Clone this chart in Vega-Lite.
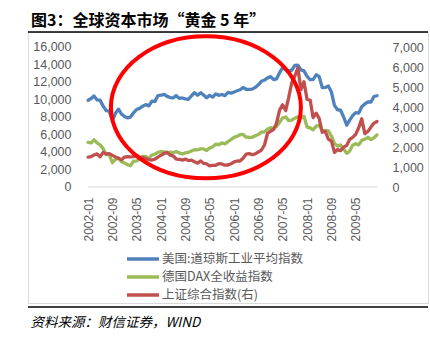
{
  "$schema": "https://vega.github.io/schema/vega-lite/v6.json",
  "width": 400,
  "height": 271,
  "autosize": {"type": "none"},
  "padding": {"left": 28, "top": 32, "right": 2, "bottom": 37},
  "background": "#ffffff",
  "title": {
    "text": "图3：全球资本市场“黄金 5 年”",
    "anchor": "start",
    "frame": "group",
    "font": "Noto Sans CJK SC",
    "fontSize": 16,
    "fontWeight": "bold",
    "color": "#000000",
    "offset": -1,
    "dx": 3
  },
  "config": {
    "view": {"stroke": "#d9d9d9", "strokeWidth": 1},
    "font": "Liberation Sans",
    "axis": {"labelOverlap": false, "labelFlush": false},
    "legend": {
      "orient": "none",
      "legendX": 108,
      "legendY": 220,
      "direction": "vertical",
      "padding": 0,
      "symbolType": "M-3.2,0H3.2",
      "symbolSize": 100,
      "symbolStrokeWidth": 3.5,
      "labelFont": "Noto Sans CJK SC",
      "labelFontSize": 12.5,
      "labelColor": "#595959",
      "labelOffset": 12,
      "rowPadding": 4,
      "labelLimit": 300
    }
  },
  "data": {
    "values": [
      {"date": "2002-01", "dji": 9920, "dax": 5108, "sh": 1491},
      {"date": "2002-02", "dji": 10106, "dax": 5039, "sh": 1524},
      {"date": "2002-03", "dji": 10404, "dax": 5398, "sh": 1603},
      {"date": "2002-04", "dji": 9946, "dax": 5041, "sh": 1656},
      {"date": "2002-05", "dji": 9925, "dax": 4818, "sh": 1515},
      {"date": "2002-06", "dji": 9243, "dax": 4383, "sh": 1732},
      {"date": "2002-07", "dji": 8737, "dax": 3700, "sh": 1653},
      {"date": "2002-08", "dji": 8664, "dax": 3713, "sh": 1670},
      {"date": "2002-09", "dji": 7592, "dax": 2769, "sh": 1581},
      {"date": "2002-10", "dji": 8397, "dax": 3153, "sh": 1507},
      {"date": "2002-11", "dji": 8896, "dax": 3320, "sh": 1434},
      {"date": "2002-12", "dji": 8342, "dax": 2893, "sh": 1357},
      {"date": "2003-01", "dji": 8054, "dax": 2748, "sh": 1499},
      {"date": "2003-02", "dji": 7891, "dax": 2548, "sh": 1513},
      {"date": "2003-03", "dji": 7992, "dax": 2424, "sh": 1510},
      {"date": "2003-04", "dji": 8480, "dax": 2942, "sh": 1521},
      {"date": "2003-05", "dji": 8850, "dax": 2983, "sh": 1576},
      {"date": "2003-06", "dji": 8985, "dax": 3221, "sh": 1487},
      {"date": "2003-07", "dji": 9234, "dax": 3487, "sh": 1476},
      {"date": "2003-08", "dji": 9415, "dax": 3485, "sh": 1421},
      {"date": "2003-09", "dji": 9275, "dax": 3257, "sh": 1367},
      {"date": "2003-10", "dji": 9801, "dax": 3655, "sh": 1349},
      {"date": "2003-11", "dji": 9782, "dax": 3746, "sh": 1397},
      {"date": "2003-12", "dji": 10454, "dax": 3965, "sh": 1497},
      {"date": "2004-01", "dji": 10488, "dax": 4058, "sh": 1590},
      {"date": "2004-02", "dji": 10583, "dax": 4018, "sh": 1675},
      {"date": "2004-03", "dji": 10358, "dax": 3856, "sh": 1742},
      {"date": "2004-04", "dji": 10226, "dax": 3985, "sh": 1595},
      {"date": "2004-05", "dji": 10188, "dax": 3921, "sh": 1555},
      {"date": "2004-06", "dji": 10435, "dax": 4052, "sh": 1399},
      {"date": "2004-07", "dji": 10140, "dax": 3895, "sh": 1386},
      {"date": "2004-08", "dji": 10174, "dax": 3785, "sh": 1342},
      {"date": "2004-09", "dji": 10080, "dax": 3893, "sh": 1396},
      {"date": "2004-10", "dji": 10027, "dax": 3960, "sh": 1320},
      {"date": "2004-11", "dji": 10428, "dax": 4126, "sh": 1340},
      {"date": "2004-12", "dji": 10783, "dax": 4256, "sh": 1266},
      {"date": "2005-01", "dji": 10490, "dax": 4254, "sh": 1191},
      {"date": "2005-02", "dji": 10766, "dax": 4350, "sh": 1306},
      {"date": "2005-03", "dji": 10504, "dax": 4349, "sh": 1181},
      {"date": "2005-04", "dji": 10193, "dax": 4185, "sh": 1159},
      {"date": "2005-05", "dji": 10467, "dax": 4461, "sh": 1060},
      {"date": "2005-06", "dji": 10275, "dax": 4587, "sh": 1080},
      {"date": "2005-07", "dji": 10641, "dax": 4886, "sh": 1083},
      {"date": "2005-08", "dji": 10482, "dax": 4830, "sh": 1162},
      {"date": "2005-09", "dji": 10569, "dax": 5044, "sh": 1155},
      {"date": "2005-10", "dji": 10440, "dax": 4929, "sh": 1092},
      {"date": "2005-11", "dji": 10806, "dax": 5193, "sh": 1099},
      {"date": "2005-12", "dji": 10718, "dax": 5408, "sh": 1161},
      {"date": "2006-01", "dji": 10865, "dax": 5674, "sh": 1258},
      {"date": "2006-02", "dji": 10993, "dax": 5796, "sh": 1299},
      {"date": "2006-03", "dji": 11109, "dax": 5970, "sh": 1298},
      {"date": "2006-04", "dji": 11367, "dax": 6009, "sh": 1440},
      {"date": "2006-05", "dji": 11168, "dax": 5693, "sh": 1642},
      {"date": "2006-06", "dji": 11150, "dax": 5683, "sh": 1672},
      {"date": "2006-07", "dji": 11186, "dax": 5682, "sh": 1612},
      {"date": "2006-08", "dji": 11381, "dax": 5859, "sh": 1658},
      {"date": "2006-09", "dji": 11679, "dax": 6004, "sh": 1753},
      {"date": "2006-10", "dji": 12081, "dax": 6269, "sh": 1837},
      {"date": "2006-11", "dji": 12222, "dax": 6309, "sh": 2099},
      {"date": "2006-12", "dji": 12463, "dax": 6597, "sh": 2675},
      {"date": "2007-01", "dji": 12622, "dax": 6789, "sh": 2786},
      {"date": "2007-02", "dji": 12269, "dax": 6715, "sh": 2881},
      {"date": "2007-03", "dji": 12354, "dax": 6917, "sh": 3184},
      {"date": "2007-04", "dji": 13063, "dax": 7409, "sh": 3841},
      {"date": "2007-05", "dji": 13628, "dax": 7883, "sh": 4109},
      {"date": "2007-06", "dji": 13409, "dax": 8007, "sh": 3821},
      {"date": "2007-07", "dji": 13212, "dax": 7584, "sh": 4471},
      {"date": "2007-08", "dji": 13358, "dax": 7638, "sh": 5218},
      {"date": "2007-09", "dji": 13896, "dax": 7862, "sh": 5552},
      {"date": "2007-10", "dji": 13930, "dax": 8020, "sh": 5954},
      {"date": "2007-11", "dji": 13372, "dax": 7871, "sh": 4871},
      {"date": "2007-12", "dji": 13265, "dax": 8067, "sh": 5262},
      {"date": "2008-01", "dji": 12650, "dax": 6852, "sh": 4383},
      {"date": "2008-02", "dji": 12266, "dax": 6748, "sh": 4348},
      {"date": "2008-03", "dji": 12263, "dax": 6535, "sh": 3473},
      {"date": "2008-04", "dji": 12820, "dax": 6949, "sh": 3693},
      {"date": "2008-05", "dji": 12638, "dax": 7097, "sh": 3433},
      {"date": "2008-06", "dji": 11350, "dax": 6418, "sh": 2736},
      {"date": "2008-07", "dji": 11378, "dax": 6480, "sh": 2776},
      {"date": "2008-08", "dji": 11544, "dax": 6422, "sh": 2397},
      {"date": "2008-09", "dji": 10851, "dax": 5831, "sh": 2293},
      {"date": "2008-10", "dji": 9325, "dax": 4988, "sh": 1729},
      {"date": "2008-11", "dji": 8829, "dax": 4669, "sh": 1871},
      {"date": "2008-12", "dji": 8776, "dax": 4810, "sh": 1821},
      {"date": "2009-01", "dji": 8001, "dax": 4338, "sh": 1991},
      {"date": "2009-02", "dji": 7063, "dax": 3844, "sh": 2082},
      {"date": "2009-03", "dji": 7609, "dax": 4085, "sh": 2373},
      {"date": "2009-04", "dji": 8168, "dax": 4770, "sh": 2477},
      {"date": "2009-05", "dji": 8500, "dax": 4941, "sh": 2633},
      {"date": "2009-06", "dji": 8447, "dax": 4809, "sh": 2959},
      {"date": "2009-07", "dji": 9172, "dax": 5332, "sh": 3412},
      {"date": "2009-08", "dji": 9496, "dax": 5465, "sh": 2667},
      {"date": "2009-09", "dji": 9712, "dax": 5675, "sh": 2779},
      {"date": "2009-10", "dji": 9713, "dax": 5415, "sh": 2996},
      {"date": "2009-11", "dji": 10345, "dax": 5625, "sh": 3195},
      {"date": "2009-12", "dji": 10428, "dax": 5957, "sh": 3277}
    ]
  },
  "layer": [
    {
      "data": {"values": [{"k": 1}]},
      "mark": {"type": "rule", "color": "#d9d9d9", "strokeWidth": 1.2},
      "encoding": {
        "x": {"datum": {"year": 2002, "month": 1, "utc": true}, "type": "temporal", "axis": null},
        "x2": {"datum": {"year": 2009, "month": 12, "utc": true}},
        "y": {"datum": 0, "type": "quantitative", "scale": {"domain": [-13257, 17714], "nice": false, "zero": false}, "axis": null}
      }
    },
    {
      "mark": {"type": "line", "strokeWidth": 3.3, "strokeJoin": "round", "strokeCap": "round"},
      "encoding": {
        "x": {
          "field": "date",
          "type": "temporal",
          "scale": {
            "type": "utc",
            "domain": [
              {"year": 2000, "month": 5, "date": 10, "utc": true},
              {"year": 2011, "month": 4, "date": 25, "utc": true}
            ]
          },
          "axis": {
            "values": [
              {"year": 2002, "month": 1, "utc": true},
              {"year": 2002, "month": 9, "utc": true},
              {"year": 2003, "month": 5, "utc": true},
              {"year": 2004, "month": 1, "utc": true},
              {"year": 2004, "month": 9, "utc": true},
              {"year": 2005, "month": 5, "utc": true},
              {"year": 2006, "month": 1, "utc": true},
              {"year": 2006, "month": 9, "utc": true},
              {"year": 2007, "month": 5, "utc": true},
              {"year": 2008, "month": 1, "utc": true},
              {"year": 2008, "month": 9, "utc": true},
              {"year": 2009, "month": 5, "utc": true}
            ],
            "format": "%Y-%m",
            "labelAngle": -90,
            "labelOverlap": false,
            "labelFlush": false,
            "offset": -116,
            "domain": false,
            "ticks": false,
            "grid": false,
            "labelPadding": 10,
            "labelFontSize": 12,
            "labelColor": "#595959",
            "title": "资料来源：财信证券，WIND",
            "titleX": 2,
            "titleY": 139,
            "titleAlign": "left",
            "titleAngle": 0,
            "titleBaseline": "alphabetic",
            "titleFont": "Noto Sans CJK SC",
            "titleFontStyle": "italic",
            "titleFontWeight": "normal",
            "titleFontSize": 13.5,
            "titleColor": "#000000"
          }
        },
        "y": {
          "field": "dji",
          "type": "quantitative",
          "scale": {"domain": [-13257, 17714], "nice": false, "zero": false},
          "axis": {
            "values": [0, 2000, 4000, 6000, 8000, 10000, 12000, 14000, 16000],
            "format": ",d",
            "orient": "left",
            "offset": -60,
            "labelPadding": 17,
            "labelOverlap": false,
            "domain": false,
            "ticks": false,
            "grid": false,
            "title": null,
            "labelFontSize": 12.5,
            "labelColor": "#595959"
          }
        },
        "color": {
          "datum": "美国:道琼斯工业平均指数",
          "type": "nominal",
          "scale": {
            "domain": ["美国:道琼斯工业平均指数", "德国DAX全收益指数", "上证综合指数(右)"],
            "range": ["#4F81BD", "#9BBB59", "#C0504D"]
          },
          "legend": {"title": null}
        }
      }
    },
    {
      "mark": {"type": "line", "strokeWidth": 3.3, "strokeJoin": "round", "strokeCap": "round"},
      "encoding": {
        "x": {"field": "date", "type": "temporal", "axis": null},
        "y": {"field": "dax", "type": "quantitative", "scale": {"domain": [-13257, 17714], "nice": false, "zero": false}, "axis": null},
        "color": {"datum": "德国DAX全收益指数", "type": "nominal"}
      }
    },
    {
      "mark": {"type": "line", "strokeWidth": 3.3, "strokeJoin": "round", "strokeCap": "round"},
      "encoding": {
        "x": {"field": "date", "type": "temporal", "axis": null},
        "y": {
          "field": "sh",
          "type": "quantitative",
          "scale": {"domain": [-5800, 7750], "nice": false, "zero": false},
          "axis": {
            "values": [0, 1000, 2000, 3000, 4000, 5000, 6000, 7000],
            "format": ",d",
            "orient": "right",
            "offset": -51,
            "labelPadding": 15,
            "labelOverlap": false,
            "domain": false,
            "ticks": false,
            "grid": false,
            "title": null,
            "labelFontSize": 12.5,
            "labelColor": "#595959"
          }
        },
        "color": {"datum": "上证综合指数(右)", "type": "nominal"}
      }
    },
    {
      "data": {"values": [{"date": "2005-03-25", "v": 9100}]},
      "mark": {
        "type": "point",
        "shape": "M -1.338 0 C -1.338 -0.5523 -0.739 -1 0 -1 C 0.739 -1 1.338 -0.5523 1.338 0 C 1.338 0.5523 0.739 1 0 1 C -0.739 1 -1.338 0.5523 -1.338 0 Z",
        "size": 20164,
        "filled": false,
        "stroke": "#FF0000",
        "strokeWidth": 4,
        "opacity": 1
      },
      "encoding": {
        "x": {"field": "date", "type": "temporal", "axis": null},
        "y": {"field": "v", "type": "quantitative", "scale": {"domain": [-13257, 17714], "nice": false, "zero": false}, "axis": null}
      }
    },
    {
      "data": {"values": [{"k": 1}]},
      "mark": {"type": "rule", "color": "#000000", "strokeWidth": 1.5},
      "encoding": {"y": {"datum": 17714, "type": "quantitative", "scale": {"domain": [-13257, 17714], "nice": false, "zero": false}, "axis": null}}
    },
    {
      "data": {"values": [{"k": 1}]},
      "mark": {"type": "rule", "color": "#000000", "strokeWidth": 1.5},
      "encoding": {"y": {"datum": -13714, "type": "quantitative", "scale": {"domain": [-13257, 17714], "nice": false, "zero": false}, "axis": null}}
    }
  ],
  "resolve": {"scale": {"y": "independent"}, "axis": {"x": "independent"}}
}
